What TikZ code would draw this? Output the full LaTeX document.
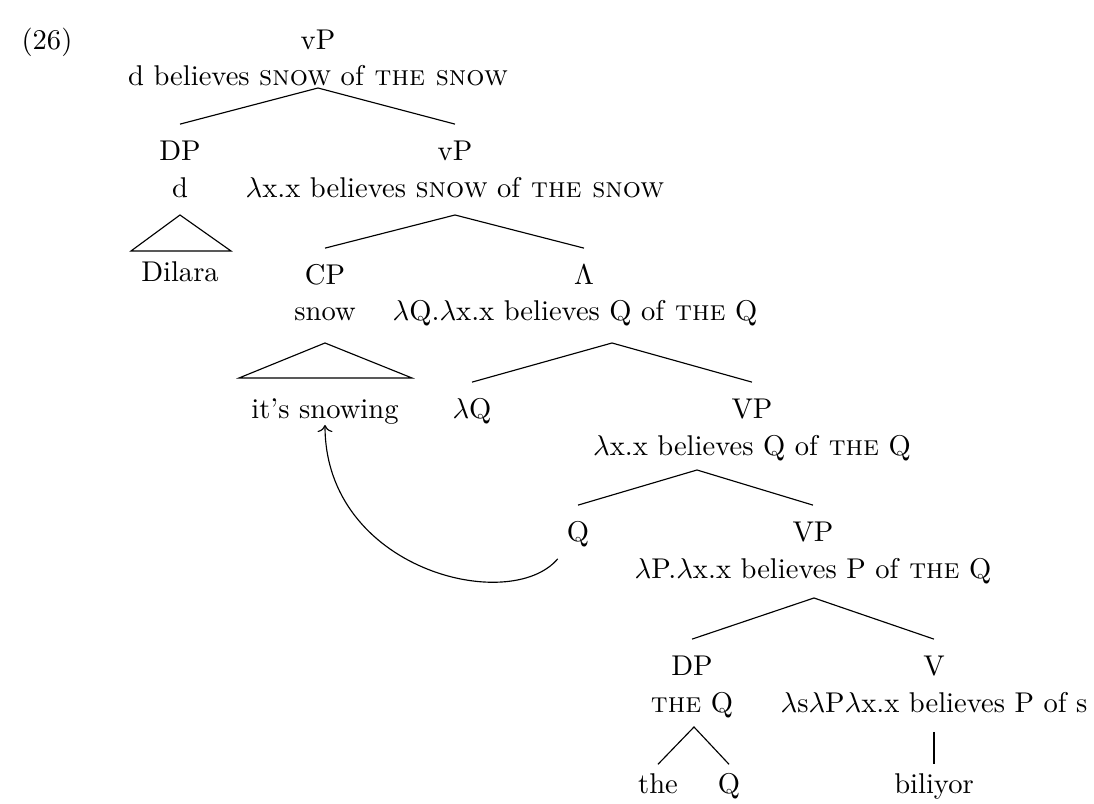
\documentclass[tikz,border=0pt]{standalone}
\usepackage{amsmath, amssymb}
\usepackage{tikz}
\usetikzlibrary{arrows.meta, positioning}
\tikzset{
  lblnode/.style={inner sep=0pt,text height=6.8pt,text depth=0pt},
  catnode/.style={lblnode,outer ysep=6pt},
  leafnode/.style={lblnode,outer ysep=3.5pt},
  branch/.style={black},
  movearr/.style={->,black},
}

\begin{document}
\begin{tikzpicture}[x=0.35pt,y=-0.35pt]
  \useasboundingbox (0,0) rectangle (1094,804);
  \node[lblnode] (ex) at (47,40) {(26)};
  % root
  \node[catnode] (vPa) at (318,40) {vP};
  \node[lblnode] (vPas) at (318,76) {d believes \textsc{snow} of \textsc{the snow}};
  \coordinate (apA) at (318,88);
  \node[catnode] (DPd) at (180,151) {DP};
  \node[lblnode] (DPds) at (180,188) {d};
  \node[catnode] (vPb) at (455,151) {vP};
  \node[lblnode] (vPbs) at (455,188) {$\lambda$x.x believes \textsc{snow} of \textsc{the snow}};
  \coordinate (apB) at (455,215);
  \coordinate (trDil) at (180,215);
  \node[lblnode] (Dil) at (180,272) {Dilara};
  \node[catnode] (CP) at (325,275) {CP};
  \node[lblnode] (CPs) at (325,311) {snow};
  \node[catnode] (Lam) at (584,275) {$\Lambda$};
  \node[lblnode] (Lams) at (575,311) {$\lambda$Q.$\lambda$x.x believes Q of \textsc{the} Q};
  \coordinate (trCP) at (325,343);
  \coordinate (apC) at (612,343);
  \node[lblnode] (snowing) at (325,409) {it's snowing};
  \node[catnode] (lQ) at (472,409) {$\lambda$Q};
  \node[catnode] (VPa) at (752,409) {VP};
  \node[lblnode] (VPas) at (752,446) {$\lambda$x.x believes Q of \textsc{the} Q};
  \coordinate (apD) at (697,470);
  \node[catnode] (Qt) at (578,532) {Q};
  \node[catnode] (VPb) at (813,532) {VP};
  \node[lblnode] (VPbs) at (813,569) {$\lambda$P.$\lambda$x.x believes P of \textsc{the} Q};
  \coordinate (apE) at (814,598);
  \node[catnode] (DPq) at (692,666) {DP};
  \node[lblnode] (DPqs) at (692,703) {\textsc{the} Q};
  \node[catnode] (Vb) at (934,666) {V};
  \node[lblnode] (Vbs) at (934,703) {$\lambda$s$\lambda$P$\lambda$x.x believes P of s};
  \coordinate (apF) at (694,727);
  \coordinate (apG) at (934,732);
  \node[leafnode] (the) at (658,784) {the};
  \node[leafnode] (Ql) at (729,784) {Q};
  \node[leafnode] (bil) at (934,784) {biliyor};
  % branches
  \draw[branch] (DPd.north) -- (apA) -- (vPb.north);
  \draw[branch] (CP.north) -- (apB) -- (Lam.north);
  \draw[branch] (lQ.north) -- (apC) -- (VPa.north);
  \draw[branch] (Qt.north) -- (apD) -- (VPb.north);
  \draw[branch] (DPq.north) -- (apE) -- (Vb.north);
  \draw[branch] (the.north) -- (apF) -- (Ql.north);
  \draw[branch] (apG) -- (bil.north);
  % triangles
  \draw[branch] (trDil) -- ++(-49,36) -- ++(100,0) -- cycle;
  \draw[branch] (trCP) -- ++(-86,35) -- ++(173,0) -- cycle;
  % movement
  \draw[movearr] ([xshift=-3pt]Qt.south west) .. controls (510,615) and (325,570) .. ([yshift=-2pt]snowing.south);
\end{tikzpicture}
\end{document}
